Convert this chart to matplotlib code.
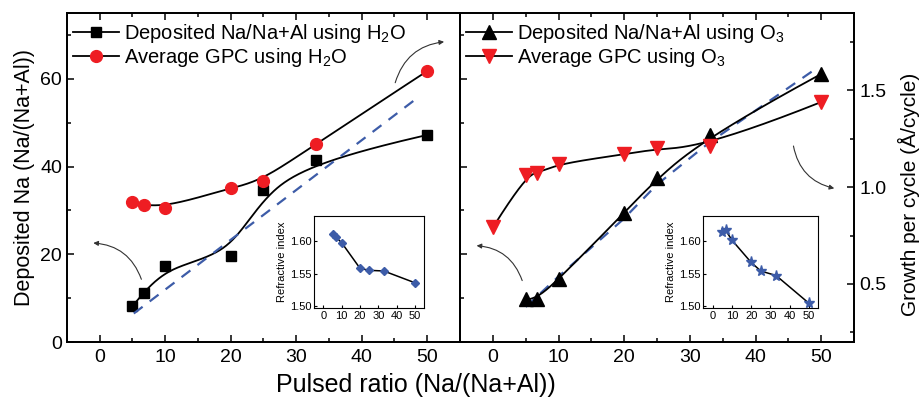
import numpy as np
import matplotlib
matplotlib.use("Agg")
import matplotlib.pyplot as plt
from matplotlib.lines import Line2D

plt.rcParams['font.family'] = ['Liberation Sans', 'DejaVu Sans']
plt.rcParams['mathtext.fontset'] = 'custom'
plt.rcParams['mathtext.rm'] = 'Liberation Sans'

# pulsed ratio Na/(Na+Al), %
ratio = [5, 6.7, 10, 20, 25, 33, 50]
ratio_o3_gpc = [0, 5, 6.7, 10, 20, 25, 33, 50]

# H2O process
na_h2o = [8.2, 11.2, 17.4, 19.7, 34.6, 41.4, 47.2]
gpc_h2o = [0.921, 0.907, 0.893, 0.998, 1.031, 1.225, 1.600]
ri_h2o = [1.610, 1.606, 1.597, 1.558, 1.555, 1.554, 1.536]
ref_h2o_x = [5.2, 48.9]
ref_h2o_y = [6.5, 56.1]

# O3 process
na_o3 = [9.7, 9.7, 14.3, 29.4, 37.4, 47.3, 61.1]
gpc_o3 = [0.792, 1.062, 1.071, 1.122, 1.169, 1.200, 1.211, 1.440]
ri_o3 = [1.614, 1.616, 1.601, 1.567, 1.554, 1.547, 1.505]
ref_o3_x = [5.0, 9.9, 19.8, 25.0, 32.9, 49.1]
ref_o3_y = [8.0, 14.8, 27.9, 35.9, 45.4, 62.2]

RED = '#ee1d23'
BLUE = '#3d5ca8'
TICK_FS = 14


def bspline(xs, ys, n=300, k=3):
    # clamped cubic B-spline using the data points as control points
    P = np.column_stack([xs, ys]).astype(float)
    m = len(P)
    knots = np.concatenate([np.zeros(k), np.linspace(0, 1, m - k + 1), np.ones(k)])
    t = np.linspace(0, 1, n)
    nb = len(knots) - 1
    N = np.zeros((n, nb))
    for i in range(nb):
        N[:, i] = (knots[i] <= t) & (t < knots[i + 1])
    last = np.nonzero(knots[:-1] < knots[1:])[0].max()
    N[t >= knots[-1], last] = 1
    for p in range(1, k + 1):
        Nn = np.zeros((n, nb - p))
        for i in range(nb - p):
            d1 = knots[i + p] - knots[i]
            d2 = knots[i + p + 1] - knots[i + 1]
            a = (t - knots[i]) / d1 * N[:, i] if d1 > 0 else 0
            b = (knots[i + p + 1] - t) / d2 * N[:, i + 1] if d2 > 0 else 0
            Nn[:, i] = a + b
        N = Nn
    c = N @ P
    return c[:, 0], c[:, 1]


def style_main(ax):
    ax.set_xlim(-5, 55)
    ax.set_ylim(0, 75)
    ax.set_xticks(range(0, 51, 10))
    ax.set_xticks(range(5, 51, 10), minor=True)
    ax.set_yticks(range(0, 71, 20))
    ax.set_yticks(range(10, 71, 20), minor=True)
    ax.tick_params(which='both', direction='in', top=True, labelsize=TICK_FS, width=1.1)
    ax.tick_params(which='major', length=5)
    ax.tick_params(which='minor', length=3)
    ax.tick_params(axis='x', pad=5)
    for s in ax.spines.values():
        s.set_linewidth(1.3)


def style_inset(ax):
    ax.set_xlim(-5, 55)
    ax.set_ylim(1.497, 1.638)
    ax.set_xticks(range(0, 51, 10))
    ax.set_yticks([1.50, 1.55, 1.60])
    ax.set_yticklabels(['1.50', '1.55', '1.60'])
    ax.tick_params(direction='in', length=2, labelsize=8, pad=2)
    ax.set_ylabel('Refractive index', fontsize=8, labelpad=2)
    for s in ax.spines.values():
        s.set_linewidth(0.8)


def curved_arrow(ax, start, end, rad):
    ax.annotate('', xy=end, xytext=start,
                arrowprops=dict(arrowstyle='-|>', color='#333333', lw=0.8,
                                mutation_scale=7,
                                connectionstyle='arc3,rad=%s' % rad))


fig = plt.figure(figsize=(9.21, 4.09), dpi=100)

axL = fig.add_axes([0.0727, 0.1638, 0.4267, 0.8044])
axR = fig.add_axes([0.4995, 0.1638, 0.4278, 0.8044])
gL = axL.twinx()
gR = axR.twinx()

for ax in (axL, axR):
    style_main(ax)
axL.tick_params(which='both', right=False)
axR.tick_params(which='both', right=False, labelleft=False)

for g in (gL, gR):
    g.set_ylim(0.2, 1.9)
    g.set_yticks([0.5, 1.0, 1.5])
    g.set_yticks([0.25, 0.75, 1.25, 1.75], minor=True)
    g.tick_params(which='both', direction='in', labelsize=TICK_FS, width=1.1, pad=4)
    g.tick_params(which='major', length=5)
    g.tick_params(which='minor', length=3)
    for s in g.spines.values():
        s.set_linewidth(1.3)
gL.tick_params(which='both', right=False, labelright=False)

# left panel: H2O
sx, sy = bspline(ratio, na_h2o)
axL.plot(sx, sy, color='k', lw=1.3)
axL.plot(ratio, na_h2o, 's', color='k', ms=7, ls='none')
axL.plot(ref_h2o_x, ref_h2o_y, '--', color=BLUE, lw=1.6, dashes=(5, 4))
sx, sy = bspline(ratio, gpc_h2o)
gL.plot(sx, sy, color='k', lw=1.3)
gL.plot(ratio, gpc_h2o, 'o', color=RED, ms=8.5, ls='none')

# right panel: O3
axR.plot(ref_o3_x, ref_o3_y, '--', color=BLUE, lw=1.6, dashes=(5, 4))
sx, sy = bspline(ratio, na_o3)
axR.plot(sx, sy, color='k', lw=1.3)
axR.plot(ratio, na_o3, '^', color='k', ms=10, ls='none')
sx, sy = bspline(ratio_o3_gpc, gpc_o3)
gR.plot(sx, sy, color='k', lw=1.3)
gR.plot(ratio_o3_gpc, gpc_o3, 'v', color=RED, ms=10, ls='none')

axL.set_ylabel('Deposited Na (Na/(Na+Al))', fontsize=15.5, labelpad=4)
gR.set_ylabel('Growth per cycle (Å/cycle)', fontsize=15, labelpad=8)
gR.yaxis.set_label_coords(1.112, 0.45)
fig.text(416 / 921, 0.058, 'Pulsed ratio (Na/(Na+Al))', fontsize=18,
         ha='center', va='center')

# legends
leg_kw = dict(loc='upper left', bbox_to_anchor=(0.015, 0.972), frameon=False,
              fontsize=14.5, handlelength=2.3, handletextpad=0.25,
              labelspacing=0.05, borderpad=0, borderaxespad=0)
hL = [Line2D([], [], color='k', lw=1.3, marker='s', ms=7),
      Line2D([], [], color='k', lw=1.3, marker='o', ms=8.5, mfc=RED, mec=RED)]
gL.legend(hL, ['Deposited Na/Na+Al using H$_2$O', 'Average GPC using H$_2$O'], **leg_kw)
hR = [Line2D([], [], color='k', lw=1.3, marker='^', ms=10),
      Line2D([], [], color='k', lw=1.3, marker='v', ms=10, mfc=RED, mec=RED)]
gR.legend(hR, ['Deposited Na/Na+Al using O$_3$', 'Average GPC using O$_3$'], **leg_kw)

# arrows pointing to the axis each curve belongs to
curved_arrow(axL, (6.5, 13.7), (-1.4, 22.6), 0.35)
curved_arrow(axL, (45.0, 58.5), (53.0, 68.5), -0.35)
curved_arrow(axR, (4.6, 13.4), (-2.9, 22.0), 0.35)
curved_arrow(axR, (45.7, 45.3), (52.4, 34.9), 0.35)

# refractive index insets
inL = fig.add_axes([0.3413, 0.2462, 0.1191, 0.2257])
style_inset(inL)
inL.plot(ratio, ri_h2o, color='k', lw=1.1)
inL.plot(ratio, ri_h2o, 'D', color=BLUE, ms=4.5, ls='none')

inR = fig.add_axes([0.7636, 0.2462, 0.1249, 0.2257])
style_inset(inR)
inR.plot(ratio, ri_o3, color='k', lw=1.1)
inR.plot(ratio, ri_o3, '*', color=BLUE, ms=8, ls='none')

fig.savefig('out.png', dpi=100)
